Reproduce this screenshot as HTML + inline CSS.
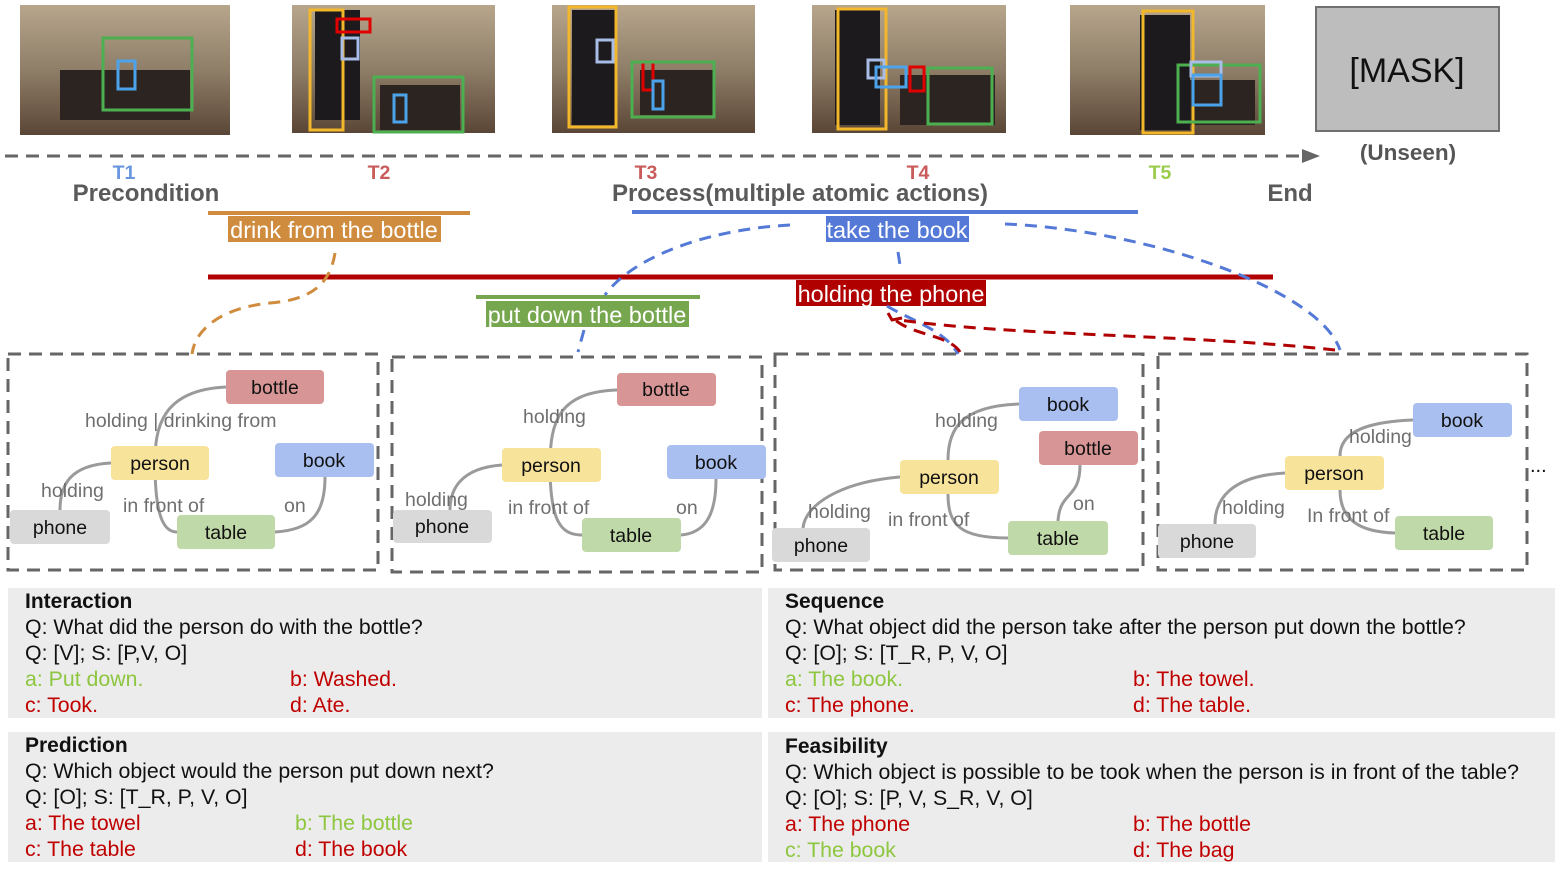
<!DOCTYPE html>
<html><head><meta charset="utf-8"><style>
html,body{margin:0;padding:0;background:#fff;}
svg{display:block;font-family:"Liberation Sans",Arial,sans-serif;}
.n{font-size:19.5px;fill:#111;text-anchor:middle;}
.e{font-size:19.5px;fill:#6f6f6f;}
.q{font-size:21.3px;fill:#111;}
.h{font-size:21px;font-weight:bold;fill:#111;}
.g{fill:#8dc63f;}
.r{fill:#c00000;}
.edge{fill:none;stroke:#9a9a9a;stroke-width:3;}
</style></head><body>
<svg width="1566" height="872" viewBox="0 0 1566 872" xmlns="http://www.w3.org/2000/svg">
<defs>
<linearGradient id="room" x1="0" y1="0" x2="0" y2="1">
<stop offset="0" stop-color="#b7a68c"/><stop offset="0.5" stop-color="#8f7e68"/><stop offset="1" stop-color="#5a4636"/>
</linearGradient>
</defs>
<g>
<rect x="20" y="5" width="210" height="130" fill="url(#room)"/>
<rect x="60" y="70" width="130" height="50" fill="#2b2420"/>
<rect x="103" y="38" width="89" height="72" fill="none" stroke="#4caf50" stroke-width="3"/>
<rect x="118" y="61" width="17" height="28" fill="none" stroke="#4da3ea" stroke-width="3"/>

<rect x="292" y="5" width="203" height="128" fill="url(#room)"/>
<rect x="315" y="10" width="45" height="110" fill="#1c1a1c"/>
<rect x="380" y="85" width="80" height="45" fill="#2b2420"/>
<rect x="310" y="10" width="33" height="120" fill="none" stroke="#f2b72a" stroke-width="3"/>
<rect x="337" y="19" width="33" height="13" fill="none" stroke="#e00000" stroke-width="3"/>
<rect x="342" y="38" width="16" height="21" fill="none" stroke="#a9bde6" stroke-width="3"/>
<rect x="374" y="77" width="89" height="55" fill="none" stroke="#4caf50" stroke-width="3"/>
<rect x="394" y="95" width="12" height="27" fill="none" stroke="#4da3ea" stroke-width="3"/>

<rect x="552" y="5" width="203" height="128" fill="url(#room)"/>
<rect x="572" y="10" width="45" height="115" fill="#1c1a1c"/>
<rect x="640" y="70" width="75" height="45" fill="#2b2420"/>
<rect x="569" y="7" width="47" height="120" fill="none" stroke="#f2b72a" stroke-width="3"/>
<rect x="597" y="40" width="16" height="22" fill="none" stroke="#a9bde6" stroke-width="3"/>
<rect x="643" y="62" width="10" height="28" fill="none" stroke="#e00000" stroke-width="3"/>
<rect x="653" y="81" width="10" height="28" fill="none" stroke="#4da3ea" stroke-width="3"/>
<rect x="632" y="62" width="82" height="55" fill="none" stroke="#4caf50" stroke-width="3"/>

<rect x="812" y="5" width="194" height="128" fill="url(#room)"/>
<rect x="835" y="10" width="45" height="115" fill="#1c1a1c"/>
<rect x="900" y="75" width="95" height="50" fill="#2b2420"/>
<rect x="838" y="9" width="48" height="120" fill="none" stroke="#f2b72a" stroke-width="3"/>
<rect x="868" y="60" width="16" height="18" fill="none" stroke="#a9bde6" stroke-width="3"/>
<rect x="876" y="67" width="30" height="20" fill="none" stroke="#4da3ea" stroke-width="3"/>
<rect x="910" y="67" width="14" height="24" fill="none" stroke="#e00000" stroke-width="3"/>
<rect x="928" y="68" width="64" height="56" fill="none" stroke="#4caf50" stroke-width="3"/>

<rect x="1070" y="5" width="195" height="130" fill="url(#room)"/>
<rect x="1140" y="15" width="50" height="115" fill="#1c1a1c"/>
<rect x="1190" y="80" width="65" height="45" fill="#2b2420"/>
<rect x="1143" y="11" width="50" height="122" fill="none" stroke="#f2b72a" stroke-width="3"/>
<rect x="1178" y="65" width="82" height="57" fill="none" stroke="#4caf50" stroke-width="3"/>
<rect x="1191" y="62" width="30" height="14" fill="none" stroke="#a9bde6" stroke-width="3"/>
<rect x="1193" y="75" width="28" height="30" fill="none" stroke="#4da3ea" stroke-width="3"/>

<rect x="1316" y="7" width="183" height="124" fill="#bdbdbd" stroke="#707070" stroke-width="2"/>
<text x="1407" y="82" font-size="34" text-anchor="middle" fill="#111">[MASK]</text>
</g>
<line x1="5" y1="156" x2="1305" y2="156" stroke="#666" stroke-width="3" stroke-dasharray="13,8"/>
<polygon points="1302,149 1320,156 1302,163" fill="#666"/>
<text x="1408" y="160" font-size="22.5" font-weight="bold" fill="#555" text-anchor="middle">(Unseen)</text>
<g font-size="19.5" font-weight="bold" text-anchor="middle">
<text x="124" y="179" fill="#6a96e0">T1</text>
<text x="379" y="179" fill="#c95b5b">T2</text>
<text x="646" y="179" fill="#c95b5b">T3</text>
<text x="918" y="179" fill="#c95b5b">T4</text>
<text x="1160" y="179" fill="#9ccc4e">T5</text>
</g>
<g font-size="24" font-weight="bold" fill="#5a5a5a" text-anchor="middle">
<text x="146" y="201">Precondition</text>
<text x="800" y="201">Process(multiple atomic actions)</text>
<text x="1290" y="201">End</text>
</g>
<line x1="208" y1="213" x2="470" y2="213" stroke="#d08c3e" stroke-width="4"/>
<rect x="228" y="216" width="213" height="26" fill="#d08c3e"/>
<text x="334" y="238" font-size="23.5" fill="#fff" text-anchor="middle">drink from the bottle</text>
<line x1="632" y1="212" x2="1138" y2="212" stroke="#5479d6" stroke-width="4"/>
<rect x="826" y="216" width="143" height="26" fill="#5479d6"/>
<text x="897" y="238" font-size="23.5" fill="#fff" text-anchor="middle">take the book</text>
<line x1="208" y1="277" x2="1273" y2="277" stroke="#b00000" stroke-width="5"/>
<rect x="796" y="280" width="190" height="26" fill="#b00000"/>
<text x="891" y="302" font-size="23.5" fill="#fff" text-anchor="middle">holding the phone</text>
<line x1="476" y1="297" x2="700" y2="297" stroke="#76a64e" stroke-width="4"/>
<rect x="486" y="301" width="203" height="26" fill="#76a64e"/>
<text x="587" y="323" font-size="23.5" fill="#fff" text-anchor="middle">put down the bottle</text>
<g fill="none" stroke-width="3" stroke-dasharray="12,8">
<path d="M335,253 C330,285 310,300 270,303 C220,308 195,330 192,354" stroke="#d08c3e"/>
<path d="M790,225 C700,230 630,260 605,295" stroke="#5479d6"/>
<path d="M584,330 L578,352" stroke="#5479d6"/>
<path d="M1005,224 C1150,230 1320,290 1340,350" stroke="#5479d6"/>
<path d="M898,252 L900,265" stroke="#5479d6"/>
<path d="M887,306 C910,320 945,330 958,354" stroke="#5479d6"/>
<path d="M1335,350 C1200,335 1000,335 900,320" stroke="#b00000"/>
<path d="M960,352 C950,335 910,335 893,318" stroke="#b00000"/>
</g>
<polyline points="888,313 892,320 902,318" fill="none" stroke="#b00000" stroke-width="3"/>
<g fill="none" stroke="#666" stroke-width="3" stroke-dasharray="13,8">
<rect x="8" y="354" width="370" height="216"/>
<rect x="392" y="357" width="370" height="215"/>
<rect x="775" y="354" width="368" height="216"/>
<rect x="1158" y="354" width="369" height="216"/>
</g>
<text x="1530" y="472" font-size="20" fill="#111">...</text>
<path class="edge" d="M226,387 C160,390 155,430 155,463 C155,520 165,532 177,532"/>
<path class="edge" d="M111,463 C70,465 60,485 60,510"/>
<path class="edge" d="M325,477 C325,515 310,530 275,532"/>
<text class="e" x="85" y="427">holding | drinking from</text>
<text class="e" x="41" y="497">holding</text>
<text class="e" x="123" y="512">in front of</text>
<text class="e" x="284" y="512">on</text>
<rect x="226" y="370" width="98" height="34" rx="4" fill="#d89595"/><text class="n" x="275" y="394">bottle</text>
<rect x="111" y="446" width="98" height="34" rx="4" fill="#f7e39a"/><text class="n" x="160" y="470">person</text>
<rect x="275" y="443" width="99" height="34" rx="4" fill="#a9bff0"/><text class="n" x="324" y="467">book</text>
<rect x="10" y="510" width="100" height="34" rx="4" fill="#d9d9d9"/><text class="n" x="60" y="534">phone</text>
<rect x="177" y="515" width="98" height="34" rx="4" fill="#c0d9a8"/><text class="n" x="226" y="539">table</text>
<path class="edge" d="M617,390 C560,392 550,420 550,465 C550,520 560,535 582,535"/>
<path class="edge" d="M502,465 C460,468 450,490 450,510"/>
<path class="edge" d="M716,479 C716,515 705,533 681,535"/>
<text class="e" x="523" y="423">holding</text>
<text class="e" x="405" y="506">holding</text>
<text class="e" x="508" y="514">in front of</text>
<text class="e" x="676" y="514">on</text>
<rect x="617" y="373" width="99" height="33" rx="4" fill="#d89595"/><text class="n" x="666" y="396">bottle</text>
<rect x="502" y="448" width="99" height="34" rx="4" fill="#f7e39a"/><text class="n" x="551" y="472">person</text>
<rect x="667" y="445" width="99" height="34" rx="4" fill="#a9bff0"/><text class="n" x="716" y="469">book</text>
<rect x="393" y="510" width="99" height="33" rx="4" fill="#d9d9d9"/><text class="n" x="442" y="533">phone</text>
<rect x="582" y="518" width="99" height="34" rx="4" fill="#c0d9a8"/><text class="n" x="631" y="542">table</text>
<path class="edge" d="M1019,404 C960,406 948,430 948,460"/>
<path class="edge" d="M948,494 C948,525 960,538 1008,538"/>
<path class="edge" d="M900,477 C840,482 805,505 803,528"/>
<path class="edge" d="M1080,465 C1080,500 1060,490 1058,521"/>
<text class="e" x="935" y="427">holding</text>
<text class="e" x="808" y="518">holding</text>
<text class="e" x="888" y="526">in front of</text>
<text class="e" x="1073" y="510">on</text>
<rect x="1019" y="387" width="99" height="34" rx="4" fill="#a9bff0"/><text class="n" x="1068" y="411">book</text>
<rect x="1039" y="431" width="99" height="34" rx="4" fill="#d89595"/><text class="n" x="1088" y="455">bottle</text>
<rect x="900" y="460" width="99" height="34" rx="4" fill="#f7e39a"/><text class="n" x="949" y="484">person</text>
<rect x="772" y="528" width="98" height="34" rx="4" fill="#d9d9d9"/><text class="n" x="821" y="552">phone</text>
<rect x="1008" y="521" width="100" height="34" rx="4" fill="#c0d9a8"/><text class="n" x="1058" y="545">table</text>
<path class="edge" d="M1413,420 C1360,422 1340,435 1340,456"/>
<path class="edge" d="M1285,473 C1230,476 1215,500 1215,524"/>
<path class="edge" d="M1340,490 C1340,520 1360,532 1395,533"/>
<text class="e" x="1349" y="443">holding</text>
<text class="e" x="1222" y="514">holding</text>
<text class="e" x="1307" y="522">In front of</text>
<rect x="1413" y="403" width="99" height="34" rx="4" fill="#a9bff0"/><text class="n" x="1462" y="427">book</text>
<rect x="1285" y="456" width="99" height="34" rx="4" fill="#f7e39a"/><text class="n" x="1334" y="480">person</text>
<rect x="1158" y="524" width="98" height="34" rx="4" fill="#d9d9d9"/><text class="n" x="1207" y="548">phone</text>
<rect x="1395" y="516" width="98" height="34" rx="4" fill="#c0d9a8"/><text class="n" x="1444" y="540">table</text>
<rect x="8" y="588" width="754" height="130" fill="#ececec"/>
<rect x="768" y="588" width="787" height="130" fill="#ececec"/>
<rect x="8" y="732" width="754" height="130" fill="#ececec"/>
<rect x="768" y="732" width="787" height="130" fill="#ececec"/>
<text class="h" x="25" y="608">Interaction</text>
<text class="q" x="25" y="634">Q: What did the person do with the bottle?</text>
<text class="q" x="25" y="660">Q: [V]; S: [P,V, O]</text>
<text class="q g" x="25" y="686">a: Put down.</text>
<text class="q r" x="290" y="686">b: Washed.</text>
<text class="q r" x="25" y="712">c: Took.</text>
<text class="q r" x="290" y="712">d: Ate.</text>

<text class="h" x="785" y="608">Sequence</text>
<text class="q" x="785" y="634">Q: What object did the person take after the person put down the bottle?</text>
<text class="q" x="785" y="660">Q: [O]; S: [T_R, P, V, O]</text>
<text class="q g" x="785" y="686">a: The book.</text>
<text class="q r" x="1133" y="686">b: The towel.</text>
<text class="q r" x="785" y="712">c: The phone.</text>
<text class="q r" x="1133" y="712">d: The table.</text>

<text class="h" x="25" y="752">Prediction</text>
<text class="q" x="25" y="778">Q: Which object would the person put down next?</text>
<text class="q" x="25" y="804">Q: [O]; S: [T_R, P, V, O]</text>
<text class="q r" x="25" y="830">a: The towel</text>
<text class="q g" x="295" y="830">b: The bottle</text>
<text class="q r" x="25" y="856">c: The table</text>
<text class="q r" x="295" y="856">d: The book</text>

<text class="h" x="785" y="753">Feasibility</text>
<text class="q" x="785" y="779">Q: Which object is possible to be took when the person is in front of the table?</text>
<text class="q" x="785" y="805">Q: [O]; S: [P, V, S_R, V, O]</text>
<text class="q r" x="785" y="831">a: The phone</text>
<text class="q r" x="1133" y="831">b: The bottle</text>
<text class="q g" x="785" y="857">c: The book</text>
<text class="q r" x="1133" y="857">d: The bag</text>
</svg>
</body></html>
